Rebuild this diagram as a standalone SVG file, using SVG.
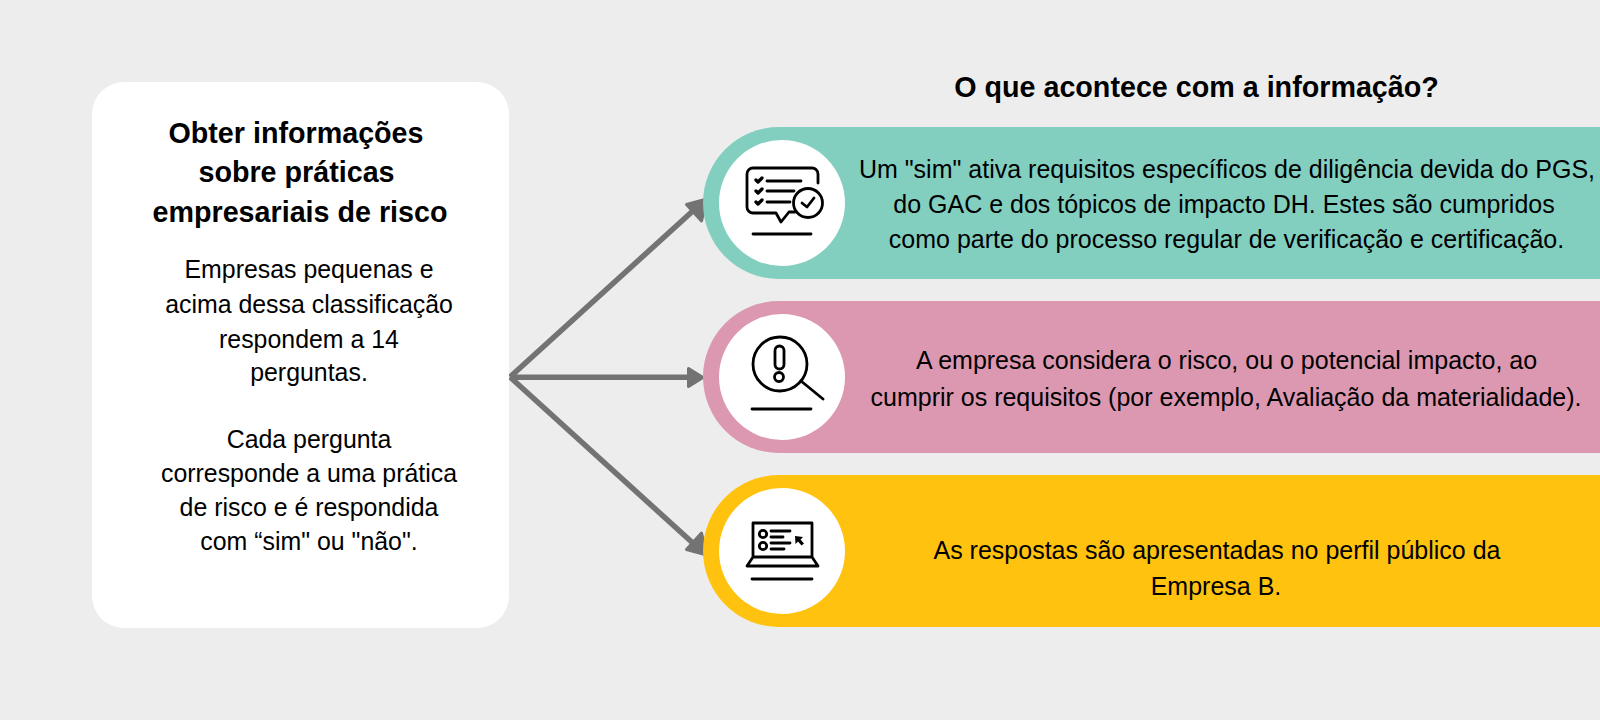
<svg xmlns="http://www.w3.org/2000/svg" width="1600" height="720" viewBox="0 0 1600 720">
<style>
text{font-family:"Liberation Sans",Arial,sans-serif;fill:#000;text-anchor:middle}
.b{font-size:28.7px;font-weight:700}
.t{font-size:24.9px}
.p{font-size:25px}
.i{fill:none;stroke:#000;stroke-width:2.800;stroke-linecap:round;stroke-linejoin:round}
.c{fill:none;stroke:#737373;stroke-width:5.500}
.h{fill:#737373;stroke:#737373;stroke-width:3;stroke-linejoin:round}
</style>
<rect width="1600" height="720" fill="#ededed"/>
<g id="connectors">
<path class="c" d="M510 377L695 209"/><path class="h" d="M707 199L686.500 204.500L701.500 221Z"/>
<path class="c" d="M510 377.300H692"/><path class="h" d="M703 377.500L688.500 368.500V386.500Z"/>
<path class="c" d="M510 377L695 545"/><path class="h" d="M707 555L686.500 549.500L701.500 533Z"/>
</g>
<g id="left-card">
<rect x="92" y="82" width="417" height="546" rx="32" fill="#fff"/>
<text class="b" x="296" y="143">Obter informações</text>
<text class="b" x="296.500" y="182">sobre práticas</text>
<text class="b" x="300" y="222">empresariais de risco</text>
<text class="t" x="309" y="278">Empresas pequenas e</text>
<text class="t" x="309" y="313">acima dessa classificação</text>
<text class="t" x="309" y="347.500">respondem a 14</text>
<text class="t" x="309" y="381">perguntas.</text>
<text class="t" x="309" y="448">Cada pergunta</text>
<text class="t" x="309" y="482">corresponde a uma prática</text>
<text class="t" x="309" y="516">de risco e é respondida</text>
<text class="t" x="309" y="550">com “sim" ou "não".</text>
</g>
<text class="b" x="1196.500" y="97" id="title">O que acontece com a informação?</text>
<g id="node-1">
<path d="M1600 127H779a76 76 0 0 0 0 152H1600Z" fill="#82cfc0"/>
<circle cx="782" cy="203" r="63" fill="#fff"/>
<path class="i" d="M818 183V174a6 6 0 0 0-6-6H753a6 6 0 0 0-6 6V207a6 6 0 0 0 6 6H776L781 222L789 212H795"/>
<path class="i" d="M767 181H801M767 191H794M767 202H790"/>
<path class="i" style="stroke-width:3.300" d="M756 180l2 2l4-4M756 191l2 2l4-4M756 202l2 2l4-4"/>
<circle class="i" cx="808" cy="203" r="14.500"/>
<path class="i" d="M802 203l5 4l7-9"/>
<path class="i" d="M753 234H811"/>
<text class="p" x="1227" y="178">Um "sim" ativa requisitos específicos de diligência devida do PGS,</text>
<text class="p" x="1224" y="213">do GAC e dos tópicos de impacto DH. Estes são cumpridos</text>
<text class="p" x="1226.500" y="248">como parte do processo regular de verificação e certificação.</text>
</g>
<g id="node-2">
<path d="M1600 301H779a76 76 0 0 0 0 152H1600Z" fill="#dc98b1"/>
<circle cx="782" cy="377" r="63" fill="#fff"/>
<circle class="i" cx="780" cy="364" r="27"/>
<rect class="i" x="775" y="346" width="9" height="23" rx="4.500"/>
<circle class="i" cx="779" cy="377" r="4.500"/>
<path class="i" d="M801 381L823 399M752 409H811"/>
<text class="p" x="1226.500" y="368.500">A empresa considera o risco, ou o potencial impacto, ao</text>
<text class="p" x="1226" y="406">cumprir os requisitos (por exemplo, Avaliação da materialidade).</text>
</g>
<g id="node-3">
<path d="M1600 475H779a76 76 0 0 0 0 152H1600Z" fill="#ffc30f"/>
<circle cx="782" cy="551" r="63" fill="#fff"/>
<path class="i" d="M753 557V523H812V557M753 557H812L818 566H747Z"/>
<circle class="i" cx="763" cy="534" r="3.700"/><circle class="i" cx="763" cy="546" r="3.700"/>
<path class="i" d="M771 531H790M771 537H783M771 543H790M771 549H784"/>
<path d="M795 536L803 537L800.500 539.500L804 543.500L801.500 545.500L798 541.500L795.500 544Z"/>
<path class="i" d="M752 579H812"/>
<text class="p" x="1217" y="558.500">As respostas são apresentadas no perfil público da</text>
<text class="p" x="1216" y="595">Empresa B.</text>
</g>
</svg>
